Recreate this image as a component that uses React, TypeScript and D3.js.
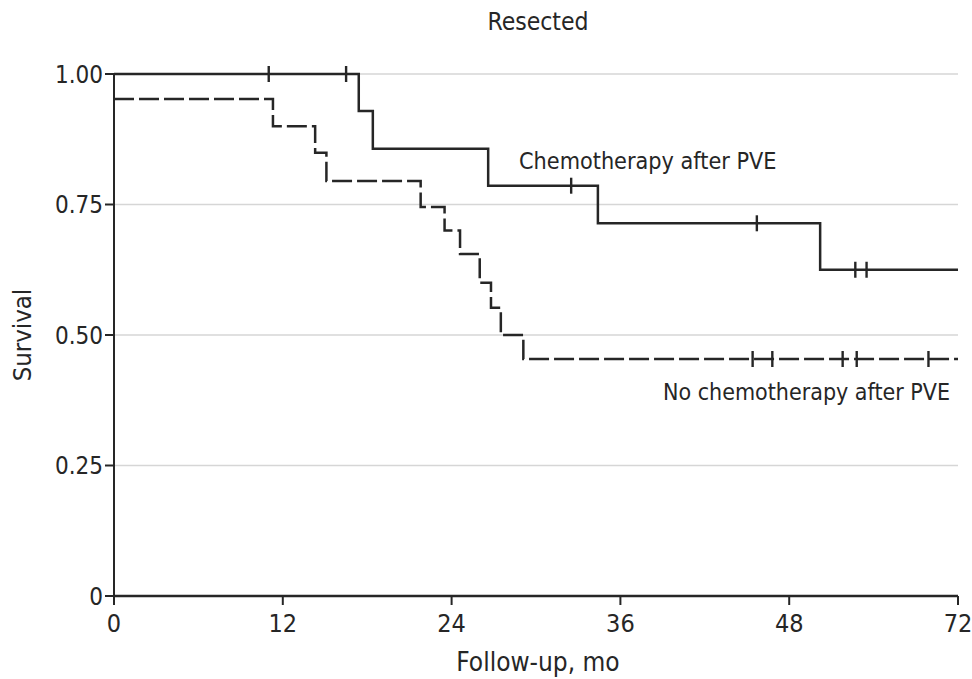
import React from "react";
import * as d3 from "d3";

const title = "Resected";
const xLabel = "Follow-up, mo";
const yLabel = "Survival";
const xTickPos = [0, 12, 24, 36, 48, 60];
const xTickLabels = ["0", "12", "24", "36", "48", "72"];
const yTicks = [0, 0.25, 0.5, 0.75, 1.0];
const yTickLabels = ["0", "0.25", "0.50", "0.75", "1.00"];

// Chemotherapy after PVE (solid)
const chemoTimes = [0, 17.4, 18.4, 26.6, 34.4, 50.2];
const chemoSurv = [1.0, 0.929, 0.857, 0.786, 0.714, 0.625];
const chemoCensorT = [11.0, 16.5, 32.5, 45.7, 52.7, 53.5];
const chemoCensorS = [1.0, 1.0, 0.786, 0.714, 0.625, 0.625];

// No chemotherapy after PVE (dashed)
const noChemoTimes = [0, 11.3, 14.3, 15.1, 21.8, 23.5, 24.6, 26.0, 26.8, 27.5, 29.1];
const noChemoSurv = [0.952, 0.9, 0.849, 0.795, 0.745, 0.7, 0.655, 0.6, 0.552, 0.5, 0.454];
const noChemoCensorT = [45.4, 46.8, 51.8, 52.8, 57.9];
const noChemoCensorS = [0.454, 0.454, 0.454, 0.454, 0.454];

const endTime = 60;
const FONT = "'DejaVu Sans Condensed', 'DejaVu Sans', sans-serif";
const INK = "#262626";

export default function App() {
  const W = 972, H = 679;
  const x = d3.scaleLinear().domain([0, 60]).range([114, 958]);
  const y = d3.scaleLinear().domain([0, 1]).range([596, 74]);

  const stepLine = d3.line<[number, number]>().x(d => x(d[0])).y(d => y(d[1])).curve(d3.curveStepAfter);
  const chemoPts: [number, number][] = chemoTimes.map((t, i) => [t, chemoSurv[i]]);
  chemoPts.push([endTime, chemoSurv[chemoSurv.length - 1]]);
  const noPts: [number, number][] = noChemoTimes.map((t, i) => [t, noChemoSurv[i]]);
  noPts.push([endTime, noChemoSurv[noChemoSurv.length - 1]]);

  const censor = (t: number, s: number, k: string) => (
    <line key={k} x1={x(t)} x2={x(t)} y1={y(s) - 8} y2={y(s) + 8} stroke={INK} strokeWidth={2.4} />
  );

  return (
    <svg width={W} height={H} style={{ position: "absolute", left: 0, top: 0, background: "#fff" }} fontFamily={FONT}>
      <rect width={W} height={H} fill="#fff" />
      {yTicks.filter(v => v > 0).map(v => (
        <line key={"g" + v} x1={x(0)} x2={x(60)} y1={y(v)} y2={y(v)} stroke="#d6d6d6" strokeWidth={1.5} />
      ))}
      <text x={538} y={30} textAnchor="middle" fontSize={24.5} fill={INK}>{title}</text>
      {/* axes */}
      <line x1={x(0)} x2={x(0)} y1={y(1)} y2={y(0)} stroke={INK} strokeWidth={2} />
      <line x1={x(0)} x2={x(60)} y1={y(0)} y2={y(0)} stroke={INK} strokeWidth={2.5} />
      {yTicks.map((v, i) => (
        <g key={"y" + v}>
          <line x1={x(0) - 9} x2={x(0)} y1={y(v)} y2={y(v)} stroke={INK} strokeWidth={2} />
          <text x={x(0) - 11} y={y(v)} dy="0.36em" textAnchor="end" fontSize={24} fill={INK}>{yTickLabels[i]}</text>
        </g>
      ))}
      {xTickPos.map((v, i) => (
        <g key={"x" + v}>
          <line x1={x(v)} x2={x(v)} y1={y(0)} y2={y(0) + 9} stroke={INK} strokeWidth={2} />
          <text x={x(v)} y={632} textAnchor="middle" fontSize={25} fill={INK}>{xTickLabels[i]}</text>
        </g>
      ))}
      <text x={538} y={671} textAnchor="middle" fontSize={26} fill={INK}>{xLabel}</text>
      <text transform={`translate(31,335) rotate(-90)`} textAnchor="middle" fontSize={25.5} fill={INK}>{yLabel}</text>
      {/* curves */}
      <path d={stepLine(noPts) || ""} fill="none" stroke={INK} strokeWidth={2.5} strokeDasharray="20,5" />
      <path d={stepLine(chemoPts) || ""} fill="none" stroke={INK} strokeWidth={2.5} />
      {chemoCensorT.map((t, i) => censor(t, chemoCensorS[i], "c" + i))}
      {noChemoCensorT.map((t, i) => censor(t, noChemoCensorS[i], "n" + i))}
      <text x={519} y={169} fontSize={23.2} fill={INK}>Chemotherapy after PVE</text>
      <text x={663} y={400} fontSize={23} fill={INK}>No chemotherapy after PVE</text>
    </svg>
  );
}
